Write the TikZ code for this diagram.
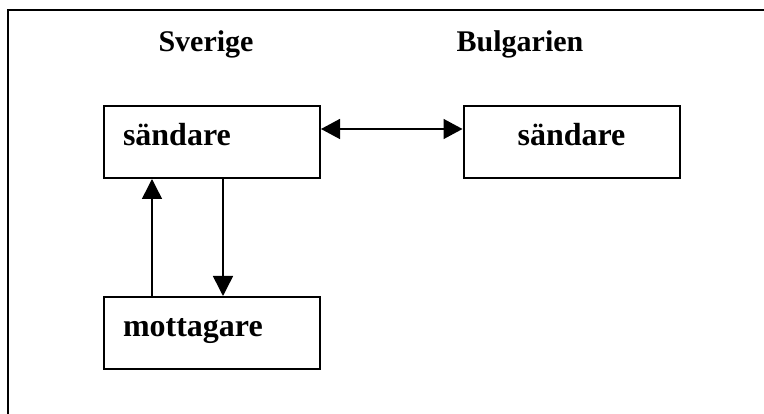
\documentclass[tikz,border=0pt]{standalone}
\usepackage{fontspec}
\setmainfont{Liberation Serif}
\usetikzlibrary{arrows.meta}
\begin{document}
\begin{tikzpicture}[x=1pt,y=-1pt,
  box/.style={draw,line width=2pt,minimum width=216pt,minimum height=72pt,
    inner xsep=19pt,inner ysep=0pt,text width=178pt,
    text height=21pt,text depth=13pt,
    font=\fontsize{32}{38}\selectfont\bfseries},
  heading/.style={inner sep=0pt,anchor=base,font=\fontsize{30}{36}\selectfont\bfseries},
  link/.style={line width=1.5pt,-{Triangle[length=20pt,width=20pt]}},
  twoway/.style={line width=1.5pt,{Triangle[length=19pt,width=20pt]}-{Triangle[length=19pt,width=20pt]}}]
  \useasboundingbox (0,0) rectangle (764,414);
  % outer frame: only top and left edges fall inside the picture
  \draw[line width=2pt] (770,10) -- (8,10) -- (8,420);

  % column headings
  \node[heading] (sverige) at (206,52) {Sverige};
  \node[heading] (bulgarien) at (520,52) {Bulgarien};

  % boxes
  \node[box,align=left] (sandSE) at (212,142) {sändare};
  \node[box,align=center] (sandBG) at (571.5,142) {sändare};
  \node[box,align=left] (mott) at (212,333) {mottagare};

  % connectors
  \draw[twoway] (sandSE.east |- 0,129) -- (sandBG.west |- 0,129);
  \draw[link] (mott.north -| 152,0) -- (sandSE.south -| 152,0);
  \draw[link] (sandSE.south -| 223,0) -- (mott.north -| 223,0);
\end{tikzpicture}
\end{document}
